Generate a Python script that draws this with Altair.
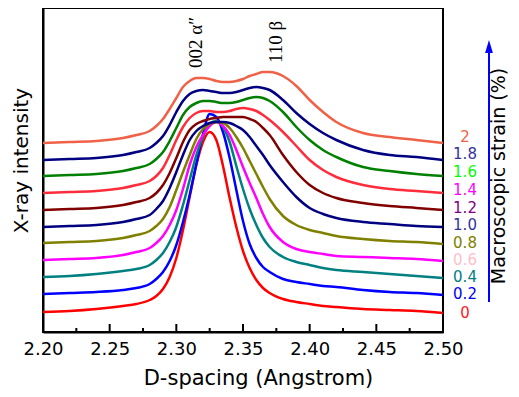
import altair as alt
import pandas as pd

# D-spacing sample points (Angstrom)
d_spacing = [2.20, 2.22, 2.24, 2.26, 2.27, 2.28, 2.285, 2.29, 2.295, 2.30, 2.305, 2.31, 2.315,
             2.32, 2.325, 2.33, 2.335, 2.34, 2.345, 2.35, 2.355, 2.36, 2.365, 2.37, 2.38, 2.39,
             2.40, 2.41, 2.42, 2.44, 2.46, 2.48, 2.50]

strain = ["0", "0.2", "0.4", "0.6", "0.8", "1.0", "1.2", "1.4", "1.6", "1.8", "2"]

# stacked X-ray intensity (arbitrary units, offset per strain)
i_00 = [20, 21, 23, 26, 28, 32, 36, 43, 55, 74, 102, 135, 167, 190, 200, 192, 166, 134, 105, 81, 64, 52, 44, 39, 33, 30, 28, 26, 25, 23, 22, 21, 19]
i_02 = [38, 39, 40, 42, 44, 48, 53, 60, 71, 87, 110, 137, 168, 198, 218, 215, 200, 174, 142, 111, 88, 74, 65, 60, 53, 50, 48, 46, 45, 42, 40, 39, 37]
i_04 = [55, 56, 58, 61, 63, 67, 72, 79, 90, 105, 127, 152, 177, 195, 208, 211, 205, 190, 166, 143, 123, 107, 94, 85, 75, 70, 67, 64, 62, 60, 58, 56, 54]
i_06 = [72, 73, 74, 77, 80, 84, 89, 96, 107, 122, 143, 167, 185, 197, 206, 210, 206, 197, 182, 165, 149, 134, 118, 105, 90, 83, 80, 78, 76, 75, 74, 73, 71]
i_08 = [89, 90, 91, 94, 97, 101, 106, 113, 125, 142, 160, 177, 193, 203, 208, 210, 209, 204, 195, 184, 171, 158, 145, 133, 116, 107, 102, 99, 96, 93, 91, 90, 88]
i_10 = [105, 106, 107, 110, 113, 117, 123, 131, 144, 160, 177, 192, 201, 206, 209, 210, 210, 209, 206, 202, 195, 186, 177, 167, 150, 135, 124, 118, 114, 110, 108, 106, 105]
i_12 = [122, 123, 124, 127, 130, 134, 139, 147, 159, 174, 190, 202, 208, 211, 213, 214, 215, 215, 215, 215, 213, 210, 204, 197, 177, 160, 147, 139, 134, 129, 126, 124, 122]
i_14 = [139, 140, 141, 144, 147, 151, 156, 164, 177, 192, 205, 214, 219, 221, 221, 220, 220, 221, 223, 224, 223, 221, 217, 212, 200, 186, 172, 162, 155, 147, 143, 141, 139]
i_16 = [156, 157, 158, 161, 164, 168, 173, 180, 191, 204, 217, 225, 229, 231, 231, 230, 229, 229, 230, 232, 234, 235, 234, 231, 220, 205, 192, 182, 175, 165, 161, 158, 156]
i_18 = [172, 173, 174, 177, 180, 184, 189, 196, 207, 220, 231, 238, 241, 242, 241, 240, 239, 239, 240, 242, 244, 245, 244, 242, 232, 219, 208, 199, 192, 182, 177, 175, 172]
i_20 = [189, 190, 191, 194, 197, 201, 206, 213, 223, 234, 245, 251, 254, 254, 253, 251, 250, 250, 251, 253, 256, 258, 260, 260, 256, 246, 232, 220, 210, 199, 195, 192, 189]
intensities = [i_00, i_02, i_04, i_06, i_08, i_10, i_12, i_14, i_16, i_18, i_20]

curve_colors = ["#ff0000", "#0000ff", "#008080", "#ff00ff", "#808000", "#000080",
                "#800000", "#ff2d3c", "#008000", "#000080", "#ef6248"]
label_colors = ["#ff2020", "#0000ff", "#008080", "#ffc0cb", "#808000", "#333399",
                "#800080", "#ff00ff", "#00ff00", "#333399", "#ef6248"]
label_y = [19, 38, 55, 72, 89, 107, 124, 142, 160, 178, 195]

peak_names = ["002 \u03b1\u2033", "110 \u03b2"]
peak_d = [2.3148, 2.3748]
peak_y = [264, 269]

major_ticks = [2.20, 2.25, 2.30, 2.35, 2.40, 2.45, 2.50]
minor_ticks = [2.225, 2.275, 2.325, 2.375, 2.425, 2.475]

rows = []
for k, s in enumerate(strain):
    for d, v in zip(d_spacing, intensities[k]):
        rows.append({"d": d, "I": v, "strain": s, "k": k})
df = pd.DataFrame(rows)

xscale = alt.Scale(domain=[2.2, 2.5], nice=False, zero=False)
yscale = alt.Scale(domain=[0, 324], nice=False, zero=False)
FONT = "DejaVu Sans"

y_axis = alt.Axis(
    labels=False, ticks=False, domain=True, domainColor="black", domainWidth=2, grid=False,
    title="X-ray intensity", titleFont=FONT, titleFontSize=20, titleFontWeight="normal",
    titleColor="black", titleX=-22, titleY=152, titleAngle=270, titleAlign="center",
    titleBaseline="middle")

lines = alt.Chart(df).mark_line(strokeWidth=2.5, interpolate="monotone").encode(
    x=alt.X("d:Q", scale=xscale, axis=alt.Axis(
        orient="bottom", values=major_ticks, format=".2f", labelFont=FONT, labelFontSize=18,
        labelColor="black", labelPadding=8, labelFlush=False, ticks=False, tickSize=0,
        domain=True, domainColor="black", domainWidth=2, grid=False,
        title="D-spacing (Angstrom)", titleFont=FONT, titleFontSize=21, titleFontWeight="normal",
        titleColor="black", titleX=215, titleY=52, titleAlign="center", titleBaseline="alphabetic")),
    y=alt.Y("I:Q", scale=yscale, axis=y_axis),
    color=alt.Color("strain:N", scale=alt.Scale(domain=strain, range=curve_colors), legend=None),
    order=alt.Order("d:Q"),
)

# inward ticks on the bottom axis
major = alt.Chart(pd.DataFrame({"t": major_ticks})).mark_rule(color="black", strokeWidth=2).encode(
    x=alt.X("t:Q", scale=xscale, axis=None), y=alt.value(324), y2=alt.value(316))
minor = alt.Chart(pd.DataFrame({"t": minor_ticks})).mark_rule(color="black", strokeWidth=2).encode(
    x=alt.X("t:Q", scale=xscale, axis=None), y=alt.value(324), y2=alt.value(320))

lab_df = pd.DataFrame({"d": [2.5] * len(strain), "y": label_y, "txt": strain, "c": label_colors})
labels = alt.Chart(lab_df).mark_text(font=FONT, fontSize=15, align="center", baseline="middle", dx=22).encode(
    x=alt.X("d:Q", scale=xscale, axis=None),
    y=alt.Y("y:Q", scale=yscale, axis=y_axis),
    text="txt:N",
    color=alt.Color("c:N", scale=None),
)

peak_df = pd.DataFrame({"d": peak_d, "y": peak_y, "txt": peak_names})
peaks = alt.Chart(peak_df).mark_text(font="Liberation Serif", fontSize=19, angle=270, align="left",
                                     baseline="middle", color="black").encode(
    x=alt.X("d:Q", scale=xscale, axis=None),
    y=alt.Y("y:Q", scale=yscale, axis=y_axis),
    text="txt:N",
)

one = pd.DataFrame({"a": [0]})
arrow_line = alt.Chart(one).mark_rule(color="#0000ff", strokeWidth=2).encode(
    x=alt.value(446), y=alt.value(294), y2=alt.value(44))
arrow_head = alt.Chart(one).mark_point(shape="M0,-1L0.6,1L-0.6,1Z", filled=True, opacity=1,
                                       color="#0000ff", size=169).encode(
    x=alt.value(446), y=alt.value(38.5))
right_title = alt.Chart(one).mark_text(text="Macroscopic strain (%)", font=FONT, fontSize=19, angle=270,
                                       align="center", baseline="middle", color="black").encode(
    x=alt.value(456), y=alt.value(168))

chart = alt.layer(lines, major, minor, labels, peaks, arrow_line, arrow_head, right_title).resolve_axis(
    x="independent").resolve_scale(color="independent").properties(
    width=400, height=324,
    autosize=alt.AutoSizeParams(type="none"),
    padding={"left": 35, "top": 0, "right": 68, "bottom": 57},
).configure_view(stroke="black", strokeWidth=2)

chart.save("out.html", embed_options={"renderer": "svg", "actions": False})
